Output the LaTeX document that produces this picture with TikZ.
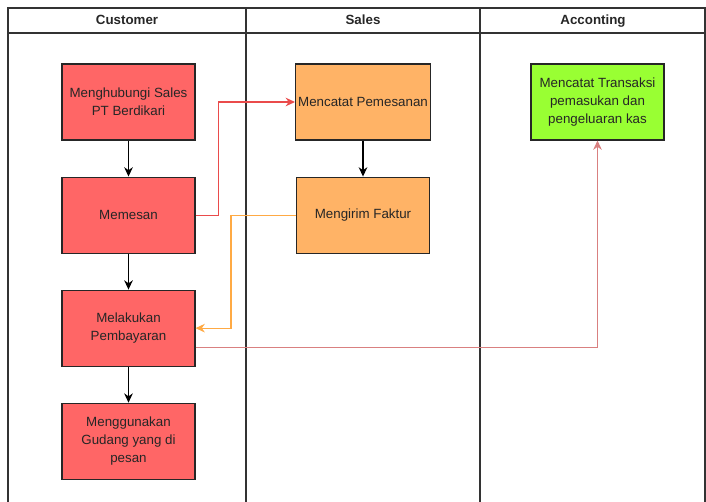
\documentclass[tikz,border=0pt]{standalone}
\usepackage{fontspec}
\setmainfont{Liberation Sans}
\usetikzlibrary{arrows.meta,positioning}
\definecolor{custred}{HTML}{FF6666}
\definecolor{salesorange}{HTML}{FFB366}
\definecolor{acctgreen}{HTML}{99FF33}
\definecolor{flowred}{HTML}{EA4B4B}
\definecolor{flowpink}{HTML}{D98080}
\definecolor{floworange}{HTML}{FFAA44}
\definecolor{laneline}{HTML}{333333}

\begin{document}
\begin{tikzpicture}[x=0.75pt,y=-0.75pt,>={Stealth[length=7pt,width=6.5pt]},node distance=27pt,
  task/.style={draw=black!85,line width=0.8pt,minimum width=99.75pt,minimum height=57pt,
    align=center,inner sep=2pt,font=\fontsize{10}{13.5}\selectfont,text=black!85},
  lanetitle/.style={font=\fontsize{10}{12}\selectfont\bfseries,text=black!85,
    text height=7.5pt,text depth=2pt},
  lane/.style={draw=laneline,line width=0.8pt}]
  \useasboundingbox (0,0) rectangle (706,502);
  % swimlanes
  \draw[lane] (8,502) -- (8,8) -- (705,8) -- (705,502);
  \draw[lane] (8,33) -- (705,33);
  \draw[lane] (246,8) -- (246,502);
  \draw[lane] (480,8) -- (480,502);
  \node[lanetitle] (tcust) at (127,20.5) {Customer};
  \node[lanetitle] (tsales) at (363,20.5) {Sales};
  \node[lanetitle] (tacct) at (593,20.5) {Acconting};
  % customer
  \node[task,fill=custred] (hubungi) at (128.5,102) {Menghubungi Sales\\PT Berdikari};
  \node[task,fill=custred,below=of hubungi] (pesan) {Memesan};
  \node[task,fill=custred,below=of pesan] (bayar) {Melakukan\\Pembayaran};
  \node[task,fill=custred,below=of bayar] (gudang) {Menggunakan\\Gudang yang di\\pesan};
  % sales
  \node[task,fill=salesorange] (catat) at (363,102) {Mencatat Pemesanan};
  \node[task,fill=salesorange,below=of catat] (faktur) {Mengirim Faktur};
  % accounting
  \node[task,fill=acctgreen] (transaksi) at (597.5,102) {Mencatat Transaksi\\pemasukan dan\\pengeluaran kas};
  \draw[->,line width=0.8pt] (hubungi) -- (pesan);
  \draw[->,line width=0.8pt] (pesan) -- (bayar);
  \draw[->,line width=0.8pt] (bayar) -- (gudang);
  \draw[->,line width=0.8pt] (catat) -- (faktur);
  \draw[->,line width=0.8pt,flowred] (pesan.east) -- ++(23,0) |- (catat);
  \draw[->,line width=0.8pt,floworange] (faktur.west) -- ++(-65,0) |- (bayar);
  \draw[->,line width=0.8pt,flowpink] ([yshift=-14.25pt]bayar.east) -| (transaksi);
\end{tikzpicture}
\end{document}
